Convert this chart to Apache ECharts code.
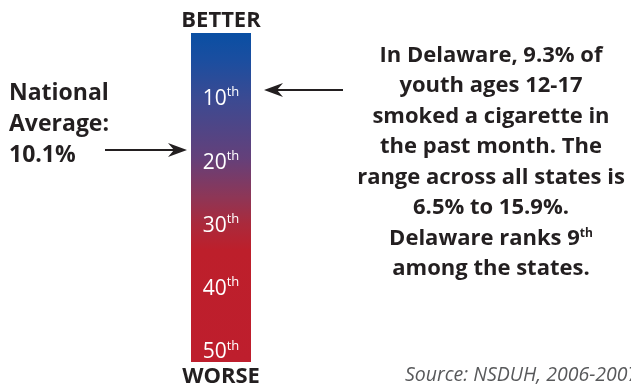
<!DOCTYPE html>
<html>
<head>
<meta charset="utf-8">
<script src="https://cdn.jsdelivr.net/npm/echarts@6/dist/echarts.min.js"></script>
<style>html,body{margin:0;padding:0;background:#fff;}#c{width:631px;height:388px;}</style>
</head>
<body>
<div id="c"></div>
<script>
// Data
const categories = ['Rank range'];
const rankExtent = [0, 52];        // ranks spanned by the bar (top = best)
const tickLabels = [10, 20, 30, 40, 50];
const delawareRank = 9;
const nationalAvgRank = 18.5;      // position of national-average arrow on rank scale
const leftLines = ['National', 'Average:', '10.1%'];
const rightLines = [
  '{b|In Delaware, 9.3% of}',
  '{b|youth ages 12-17}',
  '{b|smoked a cigarette in}',
  '{b|the past month. The}',
  '{b|range across all states is}',
  '{b|6.5% to 15.9%.}',
  '{b|Delaware ranks 9}{sup|th}',
  '{b|among the states.}'
];
const sourceText = 'Source: NSDUH, 2006-2007';

const FONT = '"Open Sans", "Noto Sans", sans-serif';
const chart = echarts.init(document.getElementById('c'));

const grad = new echarts.graphic.LinearGradient(0, 0, 0, 1, [
  {offset: 0.00, color: '#0a4fa3'},
  {offset: 0.08, color: '#1a4ea0'},
  {offset: 0.20, color: '#3b4a92'},
  {offset: 0.38, color: '#64407a'},
  {offset: 0.50, color: '#8e3656'},
  {offset: 0.58, color: '#aa2a3c'},
  {offset: 0.66, color: '#bd1f2b'},
  {offset: 1.00, color: '#be1e2d'}
]);

chart.setOption({
  animation: false,
  backgroundColor: '#fff',
  grid: {left: 191, top: 33, width: 60, height: 329},
  xAxis: {type: 'category', data: categories, show: false},
  yAxis: {
    type: 'value', inverse: true, min: rankExtent[0], max: rankExtent[1], interval: 10, z: 10,
    axisLine: {show: false}, axisTick: {show: false}, splitLine: {show: false},
    axisLabel: {
      inside: true, margin: 30, align: 'center', fontSize: 20, color: '#fff', fontFamily: FONT,
      padding: [6, 0, 0, 0],
      formatter: v => tickLabels.includes(v) ? '{n|' + v + '}{s|th}' : '',
      rich: {
        n: {fontSize: 21, color: '#fff', fontFamily: FONT, lineHeight: 26},
        s: {fontSize: 13, color: '#fff', fontFamily: FONT, verticalAlign: 'top', lineHeight: 16}
      }
    }
  },
  series: [{
    type: 'bar', data: [rankExtent[1]], barWidth: '100%', z: 2,
    itemStyle: {color: grad}, silent: true
  }]
});

function arrow(x1, x2, y, headAtLeft) {
  const tip = headAtLeft ? x1 : x2;
  const dir = headAtLeft ? 1 : -1;
  return [
    {type: 'line', shape: {x1: headAtLeft ? x1 + 10 : x1, y1: y, x2: headAtLeft ? x2 : x2 - 10, y2: y},
     style: {stroke: '#231f20', lineWidth: 2}},
    {type: 'polygon', shape: {points: [[tip, y], [tip + dir * 19, y - 7], [tip + dir * 13, y], [tip + dir * 19, y + 7]]},
     style: {fill: '#231f20'}}
  ];
}

const yDel = chart.convertToPixel({yAxisIndex: 0}, delawareRank);
const yNat = chart.convertToPixel({yAxisIndex: 0}, nationalAvgRank);

const boldStyle = {fontFamily: FONT, fontWeight: 'bold', fill: '#231f20'};

chart.setOption({
  graphic: [
    {type: 'text', x: 221, y: 21, style: Object.assign({text: 'BETTER', fontSize: 22, align: 'center', verticalAlign: 'middle'}, boldStyle)},
    {type: 'text', x: 221, y: 377, style: Object.assign({text: 'WORSE', fontSize: 22, align: 'center', verticalAlign: 'middle'}, boldStyle)},
    {type: 'text', x: 9, y: 124, style: Object.assign({text: leftLines.join('\n'), fontSize: 23, lineHeight: 31, align: 'left', verticalAlign: 'middle'}, boldStyle)},
    {type: 'text', x: 491, y: 162, style: {
      text: rightLines.join('\n'), align: 'center', verticalAlign: 'middle',
      rich: {
        b: {fontFamily: FONT, fontWeight: 'bold', fontSize: 22, fill: '#231f20', color: '#231f20', lineHeight: 30.5},
        sup: {fontFamily: FONT, fontWeight: 'bold', fontSize: 12, fill: '#231f20', color: '#231f20', lineHeight: 30.5, padding: [0, 0, 10, 0]}
      }
    }},
    {type: 'text', x: 405, y: 375, style: {text: sourceText, fontFamily: FONT, fontStyle: 'italic', fontSize: 19.5, fill: '#58595b', align: 'left', verticalAlign: 'middle'}},
    ...arrow(105, 187, yNat, false),
    ...arrow(264, 343, yDel, true)
  ]
});
</script>
</body>
</html>
